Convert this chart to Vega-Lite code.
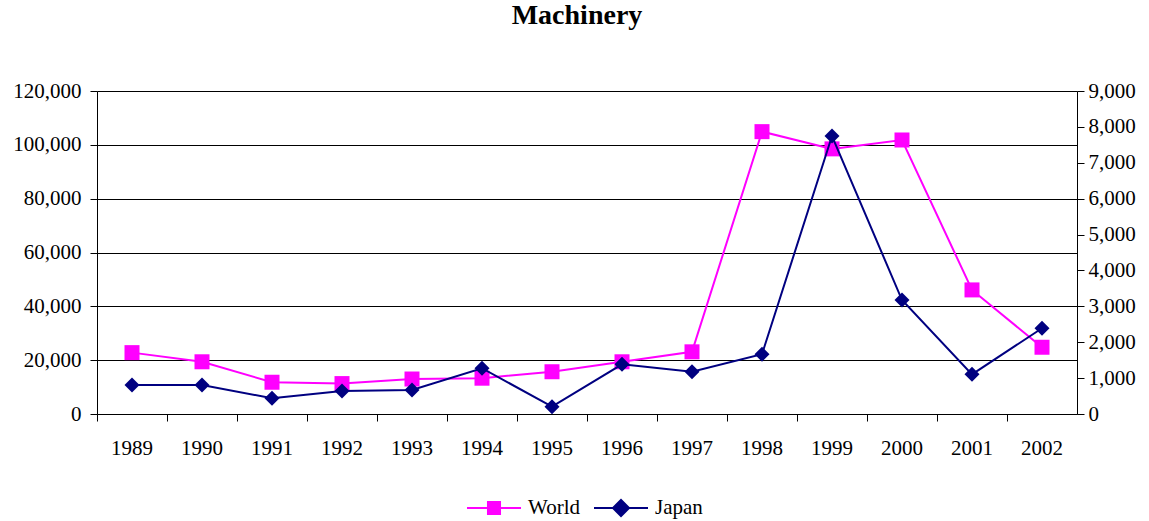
{
  "$schema": "https://vega.github.io/schema/vega-lite/v6.json",
  "autosize": {"type": "none"},
  "width": 980,
  "height": 323,
  "padding": {"left": 97, "top": 91, "right": 72, "bottom": 107},
  "background": "white",
  "title": {"text": "Machinery", "font": "Liberation Serif", "fontSize": 28, "fontWeight": "bold", "color": "black", "offset": 50, "anchor": "middle", "dx": -10},
  "data": {"values": [
    {"year": "1989", "World": 22800, "Japan": 808},
    {"year": "1990", "World": 19400, "Japan": 808},
    {"year": "1991", "World": 11800, "Japan": 440},
    {"year": "1992", "World": 11300, "Japan": 640},
    {"year": "1993", "World": 13000, "Japan": 670},
    {"year": "1994", "World": 13300, "Japan": 1275},
    {"year": "1995", "World": 15700, "Japan": 205},
    {"year": "1996", "World": 19400, "Japan": 1385},
    {"year": "1997", "World": 23100, "Japan": 1180},
    {"year": "1998", "World": 104900, "Japan": 1665},
    {"year": "1999", "World": 98500, "Japan": 7745},
    {"year": "2000", "World": 101800, "Japan": 3175},
    {"year": "2001", "World": 46100, "Japan": 1105},
    {"year": "2002", "World": 24800, "Japan": 2390}
  ]},
  "encoding": {
    "x": {
      "field": "year", "type": "ordinal", "bandPosition": 0.5,
      "scale": {"type": "band", "paddingInner": 0, "paddingOuter": 0},
      "axis": {"title": null, "bandPosition": 0, "labelAngle": 0, "labelFont": "Liberation Serif", "labelFontSize": 21, "labelColor": "black", "labelPadding": 16, "labelBaseline": "top", "tickSize": 7, "tickColor": "black", "domainColor": "black", "grid": false}
    }
  },
  "layer": [
    {
      "encoding": {
        "y": {"field": "World", "type": "quantitative", "scale": {"domain": [0, 120000], "nice": false},
          "axis": {"orient": "left", "title": null, "values": [0, 20000, 40000, 60000, 80000, 100000, 120000], "format": ",.0f", "labelFont": "Liberation Serif", "labelFontSize": 21, "labelColor": "black", "labelPadding": 9, "tickSize": 7, "tickColor": "black", "domainColor": "black", "grid": true, "gridColor": "black", "gridOpacity": 1, "gridWidth": 1}}
      },
      "layer": [
        {"mark": {"type": "line", "color": "#FF00FF", "strokeWidth": 2}},
        {"mark": {"type": "point", "shape": "square", "filled": true, "size": 225, "opacity": 1, "color": "#FF00FF"}},
        {
          "transform": [{"fold": ["World", "Japan"], "as": ["series", "v"]}, {"filter": "false"}],
          "mark": {"type": "point", "filled": true, "size": 2916, "opacity": 1, "strokeWidth": 0},
          "encoding": {
            "color": {"field": "series", "type": "nominal",
              "scale": {"domain": ["World", "Japan"], "range": ["#FF00FF", "#000080"]},
              "legend": {"orient": "none", "legendX": 370, "legendY": 390, "direction": "horizontal", "title": null, "padding": 0,
                "labelFont": "Liberation Serif", "labelFontSize": 21, "labelColor": "black", "labelOffset": 7, "columnPadding": 14,
                "symbolSize": 2916, "symbolStrokeWidth": 0, "symbolOpacity": 1}},
            "shape": {"field": "series", "type": "nominal",
              "scale": {"domain": ["World", "Japan"], "range": ["M-1,-0.037H1V0.037H-1ZM-0.26,-0.26H0.26V0.26H-0.26Z", "M-1,-0.037H1V0.037H-1ZM0,-0.35L0.35,0L0,0.35L-0.35,0Z"]},
              "legend": {"orient": "none", "legendX": 370, "legendY": 390, "direction": "horizontal", "title": null, "padding": 0,
                "labelFont": "Liberation Serif", "labelFontSize": 21, "labelColor": "black", "labelOffset": 7, "columnPadding": 14,
                "symbolSize": 2916, "symbolStrokeWidth": 0, "symbolOpacity": 1}}
          }
        }
      ]
    },
    {
      "encoding": {
        "y": {"field": "Japan", "type": "quantitative", "scale": {"domain": [0, 9000], "nice": false},
          "axis": {"orient": "right", "title": null, "values": [0, 1000, 2000, 3000, 4000, 5000, 6000, 7000, 8000, 9000], "format": ",.0f", "labelFont": "Liberation Serif", "labelFontSize": 21, "labelColor": "black", "labelPadding": 4, "tickSize": 7, "tickColor": "black", "domainColor": "black", "grid": false}}
      },
      "layer": [
        {"mark": {"type": "line", "color": "#000080", "strokeWidth": 2}},
        {"mark": {"type": "point", "shape": "diamond", "filled": true, "size": 225, "opacity": 1, "color": "#000080"}}
      ]
    }
  ],
  "resolve": {"scale": {"y": "independent"}},
  "config": {"view": {"stroke": null}}
}
